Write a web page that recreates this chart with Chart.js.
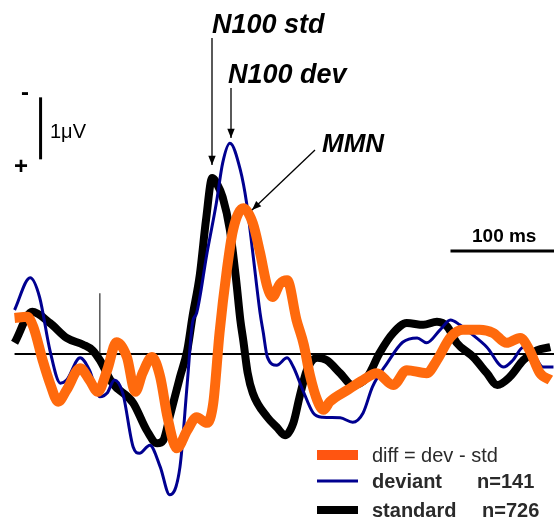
<!DOCTYPE html>
<html>
<head>
<meta charset="utf-8">
<script src="https://cdn.jsdelivr.net/npm/chart.js@4"></script>
<style>
  html, body { margin: 0; padding: 0; background: #fff; }
  #wrap { width: 554px; height: 518px; }
</style>
</head>
<body>
<div id="wrap"><canvas id="erp" width="554" height="518"></canvas></div>
<script>
// time in ms (0 = stimulus onset), amplitude in µV (negative plotted up)
const stdTime = [-82,-65,-48,-32,-16,-7,0,12,32,45,55,61,67,77,84,89,96,102,108,113,118,125,131,135,138,142,147,161,170,178,186,192,199,209,218,231,243,257,269,282,295,311,324,334,343,359,372,382,394,407,420,433];
const stdAmp  = [-0.18,-0.68,-0.5,-0.26,-0.15,-0.06,0.1,0.47,0.79,1.23,1.44,1.39,1.02,0.37,-0.06,-0.6,-1.27,-2.16,-2.84,-2.73,-2.53,-2.0,-1.19,-0.55,-0.2,0.3,0.63,1.02,1.18,1.31,1.11,0.69,0.26,0.06,0.1,0.31,0.5,0.37,-0.02,-0.34,-0.5,-0.47,-0.52,-0.44,-0.18,0.05,0.31,0.5,0.37,0.1,-0.06,-0.11];

const devTime = [-82,-67,-58,-48,-38,-32,-19,-10,0,7,14,22,32,38,48,58,67,77,84,89,93,103,112,118,125,135,141,147,154,157,161,170,180,186,195,205,214,231,243,253,262,276,291,305,314,327,337,346,356,372,388,397,407,416,426,436];
const devAmp  = [-0.71,-1.23,-0.92,-0.06,0.47,0.42,0.06,0.26,0.69,0.63,0.42,0.63,1.5,1.6,1.47,1.82,2.27,1.82,0.47,-0.5,-0.66,-1.63,-2.44,-3.08,-3.4,-2.97,-2.44,-1.63,-0.66,-0.35,0.05,0.18,0.06,0.21,0.58,0.95,1.02,1.03,1.1,0.95,0.53,0.15,-0.19,-0.26,-0.18,-0.39,-0.55,-0.47,-0.34,-0.11,0.21,0.1,-0.11,-0.02,0.21,0.21];

const diffTime = [-82,-70,-64,-55,-48,-40,-32,-19,-10,-2,7,16,26,34,41,50,58,65,74,84,93,103,109,115,122,128,138,147,154,161,166,173,180,189,196,202,209,215,221,238,253,266,282,295,314,324,337,349,365,378,391,404,413,423,433];
const diffAmp  = [-0.58,-0.6,-0.44,0.1,0.47,0.77,0.58,0.23,0.42,0.61,0.26,-0.19,0.05,0.61,0.31,0.05,0.37,1.02,1.52,1.23,1.02,1.11,0.79,-0.34,-1.35,-2.0,-2.35,-2.11,-1.63,-1.08,-0.92,-1.13,-1.19,-0.55,-0.15,0.35,0.75,0.9,0.77,0.58,0.42,0.31,0.5,0.26,0.31,0.1,-0.27,-0.39,-0.39,-0.34,-0.18,-0.26,-0.06,0.31,0.42];

const seriesLabels = ['diff = dev - std', 'deviant', 'standard'];
const seriesCounts = ['', 'n=141', 'n=726'];

const xRange = [-96, 436.5];
const yRange = [-5.71, 2.645];

function toPoints(t, v) { return t.map((x, i) => ({ x, y: v[i] })); }

const overlay = {
  id: 'overlay',
  beforeDatasetsDraw(chart) {
    const { ctx, scales: { x, y } } = chart;
    ctx.save();
    ctx.strokeStyle = '#000';
    // baseline
    ctx.lineWidth = 2;
    ctx.beginPath();
    ctx.moveTo(x.getPixelForValue(-82), y.getPixelForValue(0));
    ctx.lineTo(x.getPixelForValue(436.5), y.getPixelForValue(0));
    ctx.stroke();
    // stimulus onset
    ctx.lineWidth = 1;
    ctx.beginPath();
    ctx.moveTo(x.getPixelForValue(0), y.getPixelForValue(0));
    ctx.lineTo(x.getPixelForValue(0), y.getPixelForValue(-0.98));
    ctx.stroke();
    ctx.restore();
  },
  afterDraw(chart) {
    const { ctx, scales: { x, y } } = chart;
    const X = v => x.getPixelForValue(v), Y = v => y.getPixelForValue(v);
    ctx.save();
    ctx.fillStyle = '#000';
    ctx.strokeStyle = '#000';

    // 1 µV scale bar
    ctx.lineWidth = 3;
    ctx.beginPath();
    ctx.moveTo(X(-57), Y(-4.14));
    ctx.lineTo(X(-57), Y(-3.14));
    ctx.stroke();
    ctx.font = '20px "Liberation Sans", Arial, sans-serif';
    ctx.textBaseline = 'alphabetic';
    ctx.fillText('1\u03bcV', 50, 138);
    ctx.font = 'bold 24px "Liberation Sans", Arial, sans-serif';
    ctx.fillText('-', 21, 100);
    ctx.fillText('+', 14, 174);

    // 100 ms scale bar
    ctx.lineWidth = 3;
    ctx.beginPath();
    ctx.moveTo(X(337), Y(-1.66));
    ctx.lineTo(X(436.5), Y(-1.66));
    ctx.stroke();
    ctx.font = 'bold 19px "Liberation Sans", Arial, sans-serif';
    ctx.fillText('100 ms', 472, 242);

    // peak labels
    ctx.font = 'italic bold 27px "Liberation Sans", Arial, sans-serif';
    ctx.fillText('N100 std', 212, 33);
    ctx.fillText('N100 dev', 228, 83);
    ctx.font = 'italic bold 26px "Liberation Sans", Arial, sans-serif';
    ctx.fillText('MMN', 322, 152);

    const arrow = (x0, y0, x1, y1) => {
      ctx.lineWidth = 1.3;
      ctx.beginPath();
      ctx.moveTo(x0, y0);
      ctx.lineTo(x1, y1);
      ctx.stroke();
      const a = Math.atan2(y1 - y0, x1 - x0), L = 10, W = 0.38;
      ctx.beginPath();
      ctx.moveTo(x1, y1);
      ctx.lineTo(x1 - L * Math.cos(a - W), y1 - L * Math.sin(a - W));
      ctx.lineTo(x1 - L * Math.cos(a + W), y1 - L * Math.sin(a + W));
      ctx.closePath();
      ctx.fill();
    };
    arrow(212, 38, 212, 165);
    arrow(231, 88, 231, 138);
    arrow(315, 150, 252, 210);

    // legend
    const ds = chart.data.datasets;
    const rows = [455, 481, 510];
    ctx.fillStyle = '#2a2a2a';
    ds.forEach((d, i) => {
      ctx.save();
      ctx.strokeStyle = i === 0 ? '#ff5511' : d.borderColor;
      ctx.lineWidth = i === 0 ? 10 : d.borderWidth;
      ctx.beginPath();
      ctx.moveTo(317, rows[i]);
      ctx.lineTo(358, rows[i]);
      ctx.stroke();
      ctx.restore();
      ctx.textBaseline = 'middle';
      ctx.font = (i === 0 ? '' : 'bold ') + '20px "Liberation Sans", Arial, sans-serif';
      ctx.fillText(d.label, 372, rows[i] + 1);
      if (seriesCounts[i]) ctx.fillText(seriesCounts[i], i === 1 ? 477 : 482, rows[i] + 1);
    });
    ctx.restore();
  }
};

new Chart(document.getElementById('erp'), {
  type: 'line',
  data: {
    datasets: [
      { label: seriesLabels[0], data: toPoints(diffTime, diffAmp), borderColor: '#ff6a0d', borderWidth: 10, order: 1 },
      { label: seriesLabels[1], data: toPoints(devTime, devAmp), borderColor: '#000090', borderWidth: 3, order: 2 },
      { label: seriesLabels[2], data: toPoints(stdTime, stdAmp), borderColor: '#000000', borderWidth: 8, order: 3 }
    ]
  },
  options: {
    responsive: false,
    animation: false,
    layout: { padding: 0 },
    elements: {
      point: { radius: 0 },
      line: { tension: 0.4, cubicInterpolationMode: 'monotone', borderJoinStyle: 'round', borderCapStyle: 'butt', fill: false }
    },
    plugins: { legend: { display: false }, tooltip: { enabled: false } },
    scales: {
      x: { type: 'linear', min: xRange[0], max: xRange[1], display: false },
      y: { type: 'linear', min: yRange[0], max: yRange[1], reverse: true, display: false }
    }
  },
  plugins: [overlay]
});
</script>
</body>
</html>
